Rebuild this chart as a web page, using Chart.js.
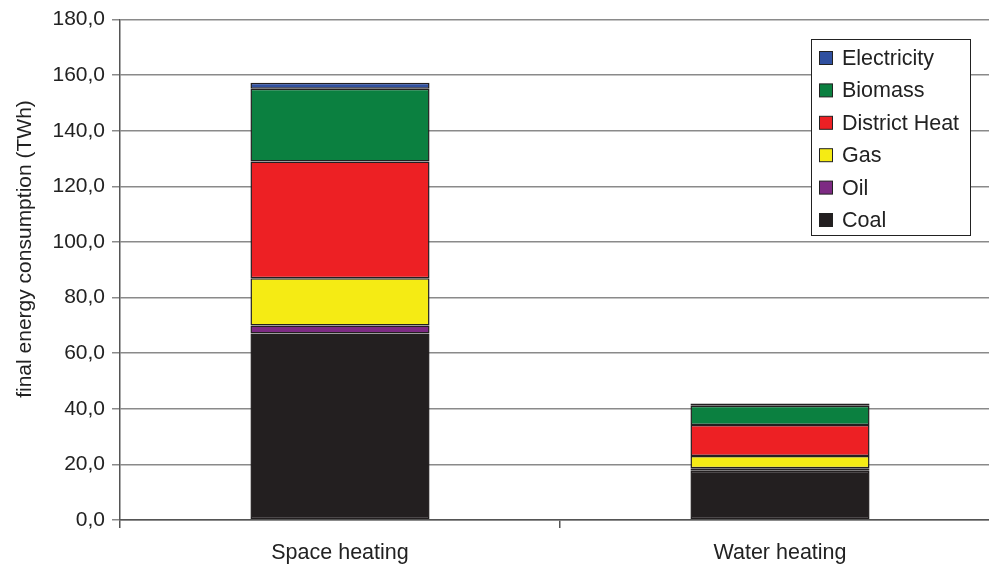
<!DOCTYPE html>
<html>
<head>
<meta charset="utf-8">
<script src="https://cdn.jsdelivr.net/npm/chart.js@4"></script>
<style>
  html, body { margin: 0; padding: 0; background: #fff; overflow: hidden; }
  #wrap { position: relative; width: 1000px; height: 566px; }
</style>
</head>
<body>
<div id="wrap"><canvas id="chart" width="1000" height="566"></canvas></div>
<script>
// Chart data
const categories = ['Space heating', 'Water heating'];
const seriesNames = ['Coal', 'Oil', 'Gas', 'District Heat', 'Biomass', 'Electricity'];
const coal = [67.1, 17.7];
const oil = [2.9, 0.9];
const gas = [17.0, 4.4];
const districtHeat = [42.0, 11.2];
const biomass = [26.1, 6.9];
const electricity = [2.2, 0.8];
const seriesColors = ['#231f20', '#7d2a83', '#f5eb14', '#ed2024', '#0b8040', '#3050a0'];
const yTitle = 'final energy consumption (TWh)';

const seriesValues = [coal, oil, gas, districtHeat, biomass, electricity];
const FONT = "'Liberation Sans', Arial, sans-serif";

// Legend box in the top right of the plot
const boxLegend = {
    id: 'boxLegend',
    afterDraw(chart) {
        const ctx = chart.ctx;
        const x = 811.5, y = 39.5, w = 159, h = 196;
        ctx.save();
        ctx.fillStyle = '#fff';
        ctx.fillRect(x, y, w, h);
        ctx.strokeStyle = '#222';
        ctx.lineWidth = 1;
        ctx.strokeRect(x, y, w, h);
        ctx.font = '21.5px ' + FONT;
        ctx.textBaseline = 'middle';
        const ds = chart.data.datasets.slice().reverse();
        ds.forEach((d, i) => {
            const cy = 58 + i * 32.4;
            ctx.fillStyle = d.backgroundColor;
            ctx.fillRect(819.5, cy - 6.5, 13, 13);
            ctx.strokeStyle = '#222';
            ctx.strokeRect(819.5, cy - 6.5, 13, 13);
            ctx.fillStyle = '#222';
            ctx.fillText(d.label, 842, cy + 1);
        });
        ctx.restore();
    }
};

// Rotated y-axis title
const yTitlePlugin = {
    id: 'yTitlePlugin',
    afterDraw(chart) {
        const ctx = chart.ctx;
        ctx.save();
        ctx.translate(25, 249);
        ctx.rotate(-Math.PI / 2);
        ctx.font = '21px ' + FONT;
        ctx.fillStyle = '#222';
        ctx.textAlign = 'center';
        ctx.textBaseline = 'middle';
        ctx.fillText(yTitle, 0, 0);
        ctx.restore();
    }
};

new Chart(document.getElementById('chart').getContext('2d'), {
    type: 'bar',
    data: {
        labels: categories,
        datasets: seriesNames.map((name, i) => ({
            label: name,
            data: seriesValues[i],
            backgroundColor: seriesColors[i],
            borderColor: '#231f20',
            borderWidth: 1.5,
            borderSkipped: false,
            categoryPercentage: 1,
            barPercentage: 0.407
        }))
    },
    options: {
        responsive: false,
        animation: false,
        layout: { padding: { top: 19, right: 0, left: 0, bottom: 0 } },
        plugins: {
            legend: { display: false },
            tooltip: { enabled: false }
        },
        scales: {
            x: {
                stacked: true,
                afterFit(scale) { scale.height = 46; },
                grid: {
                    display: true,
                    drawOnChartArea: false,
                    offset: true,
                    tickLength: 8,
                    color: '#555',
                    lineWidth: 1.5
                },
                border: { color: '#555', width: 1.5 },
                ticks: { color: '#222', font: { family: FONT, size: 21.5 }, padding: 12 }
            },
            y: {
                stacked: true,
                min: 0,
                max: 180,
                afterFit(scale) { scale.width = 120; },
                grid: { color: '#8a8a8a', lineWidth: 1.5, tickLength: 8 },
                border: { color: '#555', width: 1.5 },
                ticks: {
                    stepSize: 20,
                    color: '#222',
                    padding: 7,
                    font: { family: FONT, size: 21 },
                    callback: v => v.toFixed(1).replace('.', ',')
                }
            }
        }
    },
    plugins: [boxLegend, yTitlePlugin]
});
</script>
</body>
</html>
